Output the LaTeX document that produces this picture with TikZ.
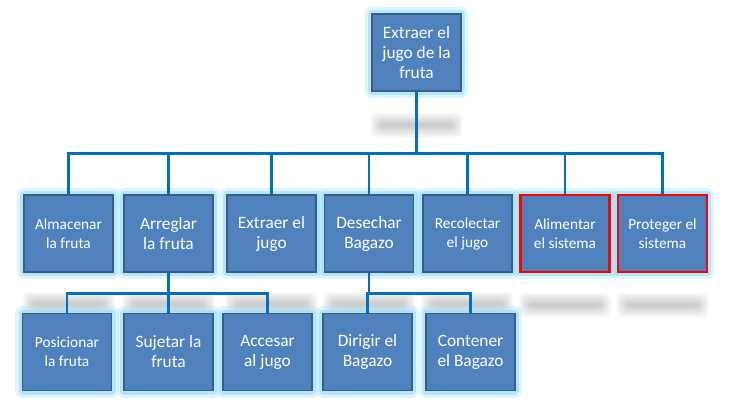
\documentclass[tikz,border=0pt]{standalone}
\usepackage{fontspec}
\setmainfont{Carlito}
\usepackage{tikz}

\definecolor{boxfill}{RGB}{79,129,189}
\definecolor{boxline}{RGB}{56,93,138}
\definecolor{linkblue}{RGB}{0,112,192}
\definecolor{glowcyan}{RGB}{150,220,245}

\tikzset{
  task/.style={draw=boxline, fill=boxfill, line width=0.9pt, inner sep=0pt,
    minimum width=66.75pt, minimum height=57.75pt, align=center, text=white,
    font=\fontsize{13}{15}\selectfont,
    preaction={draw=glowcyan, line width=11pt, line join=round, opacity=0.3},
    preaction={draw=glowcyan, line width=6pt, line join=round, opacity=0.6}},
  small/.style={font=\fontsize{11.5}{14.25}\selectfont},
  flagged/.style={draw=red, line width=1.6pt},
  link/.style={draw=linkblue, line width=2.2pt},
}

\begin{document}
\begin{tikzpicture}[x=0.75pt,y=0.75pt,yscale=-1,xscale=1]
\useasboundingbox (0,0) rectangle (729,412);

%Shadows under the boxes
\foreach \cx/\cy in {416.5/125, 68.5/304, 168.5/304, 271.5/304, 369/304, 467.5/304, 565/305, 662.5/305}
  \foreach \k in {0,...,5}
    \fill[black, opacity=0.035, rounded corners=5] (\cx-46+\k*2,\cy-12+\k*2) rectangle (\cx+46-\k*2,\cy+12-\k*2);

% Top node
\node[task] (top) at (416.5,52.5) {Extraer el\\jugo de la\\fruta};

% Second row
\node[task, small] (b1) at (68.5,233.5) {Almacenar\\la fruta};
\node[task] (b2) at (168.5,233.5) {Arreglar\\la fruta};
\node[task] (b3) at (271.5,233.5) {Extraer el\\jugo};
\node[task] (b4) at (369,233.5) {Desechar\\Bagazo};
\node[task, small] (b5) at (467.5,233.5) {Recolectar\\el jugo};
\node[task, small, flagged] (b6) at (565,233.5) {Alimentar\\el sistema};
\node[task, small, flagged] (b7) at (662.5,233.5) {Proteger el\\sistema};

% Third row
\node[task, small] (c1) at (67,352) {Posicionar\\la fruta};
\node[task] (c2) at (168.5,352) {Sujetar la\\fruta};
\node[task] (c3) at (267.5,352) {Accesar\\al jugo};
\node[task] (c4) at (367.5,352) {Dirigir el\\Bagazo};
\node[task] (c5) at (470.5,352) {Contener\\el Bagazo};

% Connectors
\foreach \n in {b1,b2,b3,b4,b5,b6,b7}
  \draw[link] (top.south) -- ++(0,62) -| (\n.north);
\foreach \n in {c1,c2,c3}
  \draw[link] (b2.south) -- ++(0,21) -| (\n.north);
\foreach \n in {c4,c5}
  \draw[link] (b4.south) -- ++(0,21) -| (\n.north);
\end{tikzpicture}
\end{document}
